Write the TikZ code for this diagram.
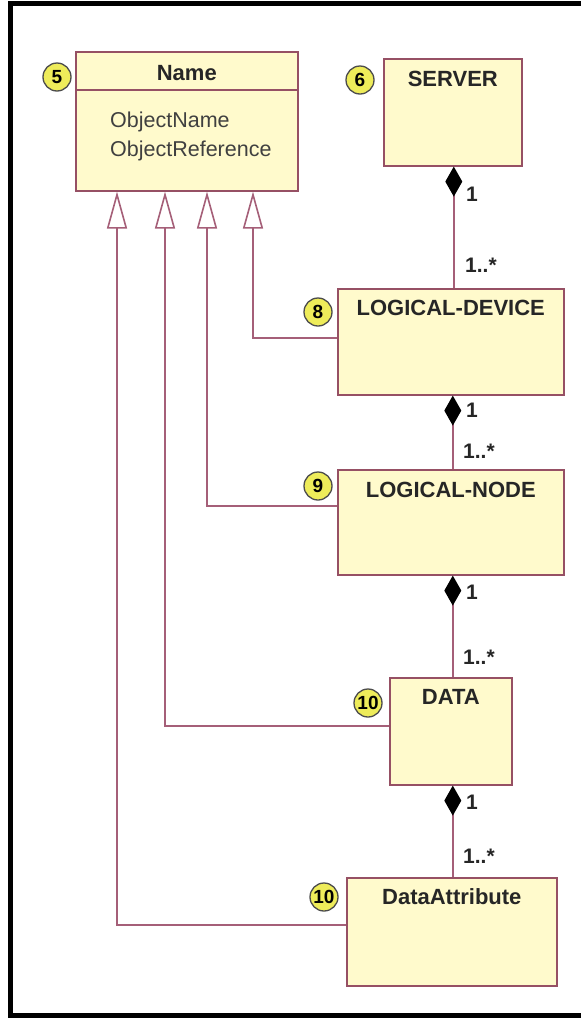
\documentclass[tikz,border=0pt]{standalone}
\usepackage{fontspec}
\setmainfont{Liberation Sans}
\usetikzlibrary{arrows.meta,calc}
\definecolor{boxfill}{RGB}{255,250,204}
\definecolor{boxline}{RGB}{150,80,100}
\definecolor{conn}{RGB}{165,95,120}
\definecolor{badgefill}{RGB}{238,236,90}
\begin{document}
\begin{tikzpicture}[x=1pt,y=-1pt,
  box/.style={draw=boxline, fill=boxfill, line width=1.6pt, rectangle, inner sep=0pt, anchor=north west},
  title/.style={font=\bfseries\fontsize{22}{22}\selectfont, text=black!85, inner sep=0pt},
  badge/.style={circle, draw=black!70, fill=badgefill, line width=1.3pt, minimum size=28pt, inner sep=0pt, font=\bfseries\fontsize{19}{19}\selectfont},
  mult/.style={font=\bfseries\fontsize{21}{21}\selectfont, anchor=west, inner sep=0pt, text=black!85},
  comp/.style={draw=conn, line width=1.4pt, {Diamond[length=30pt,width=17pt,color=black]}-},
  gen/.style={draw=conn, line width=1.6pt, -{Triangle[open,length=37pt,width=20pt,fill=white]}}
]
\useasboundingbox (0,0) rectangle (581,1018);
\fill[white] (0,0) rectangle (581,1018);
% frame
\draw[line width=5pt, black] (581,3.5) -- (10.5,3.5) -- (10.5,1015.5) -- (581,1015.5);

% boxes
\node[box, minimum width=222pt, minimum height=139pt] (name) at (75,51) {};
\node[box, minimum width=138pt, minimum height=107pt] (server) at (383,58) {};
\node[box, minimum width=226pt, minimum height=106pt] (ld) at (337,288) {};
\node[box, minimum width=226pt, minimum height=105pt] (ln) at (337,469) {};
\node[box, minimum width=122pt, minimum height=107pt] (data) at (389,677) {};
\node[box, minimum width=210pt, minimum height=108pt] (da) at (346,877) {};

\draw[draw=boxline, line width=1.6pt] ($(name.north west)+(0,39)$) -- ($(name.north east)+(0,39)$);

% titles
\node[title] (tname) at ($(name.north)+(0,22)$) {Name};
\node[title] (tserver) at ($(server.north)+(0,21)$) {SERVER};
\node[title] (tld) at ($(ld.north)+(0,20)$) {LOGICAL-DEVICE};
\node[title] (tln) at ($(ln.north)+(0,21)$) {LOGICAL-NODE};
\node[title] (tdata) at ($(data.north)+(0,20)$) {DATA};
\node[title] (tda) at ($(da.north)+(0,20)$) {DataAttribute};

\node[anchor=north west, align=left, inner sep=0pt, text=black!75,
      font=\fontsize{21.5}{29}\selectfont] (attrs) at (110,112) {ObjectName\\ObjectReference};

% badges
\node[badge] (b5) at (57,77) {5};
\node[badge] (b6) at (360,80) {6};
\node[badge] (b8) at (318,312) {8};
\node[badge] (b9) at (318,486) {9};
\node[badge] (b10a) at (368,703) {10};
\node[badge] (b10b) at (324,897) {10};

% generalization targets on Name
\coordinate (g1) at ($(name.south west)+(42,0)$);
\coordinate (g2) at ($(name.south west)+(90,0)$);
\coordinate (g3) at ($(name.south west)+(132,0)$);
\coordinate (g4) at ($(name.south west)+(178,0)$);

\draw[gen] ($(da.north west)+(0,48)$) -| (g1);
\draw[gen] ($(data.north west)+(0,49)$) -| (g2);
\draw[gen] ($(ln.north west)+(0,37)$) -| (g3);
\draw[gen] ($(ld.north west)+(0,50)$) -| (g4);

% compositions
\draw[comp] ($(server.south)+(1,0)$) -- ($(server.south |- ld.north)+(1,0)$);
\draw[comp] ($(ld.south)+(2,0)$) -- ($(ld.south |- ln.north)+(2,0)$);
\draw[comp] ($(ln.south)+(2,0)$) -- ($(ln.south |- data.north)+(2,0)$);
\draw[comp] ($(data.south)+(2,0)$) -- ($(data.south |- da.north)+(2,0)$);

% multiplicities
\node[mult] (m1a) at (466,194) {1};
\node[mult] (m1b) at (465,265) {1..*};
\node[mult] (m2a) at (466,410) {1};
\node[mult] (m2b) at (463,451) {1..*};
\node[mult] (m3a) at (466,592) {1};
\node[mult] (m3b) at (463,657) {1..*};
\node[mult] (m4a) at (466,802) {1};
\node[mult] (m4b) at (463,856) {1..*};
\end{tikzpicture}
\end{document}
